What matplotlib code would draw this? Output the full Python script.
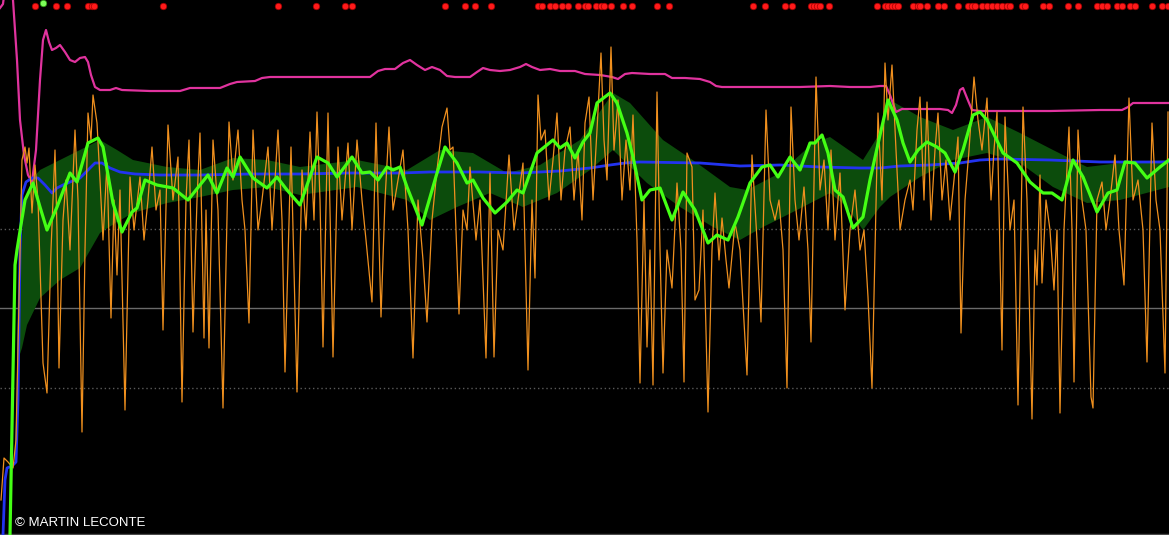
import matplotlib.pyplot as plt
import numpy as np

# readings taken off the chart: x = bar position, y = level (0 at top, 535 at bottom)
fast_x = [1, 4, 8, 13, 16, 19, 22, 25, 27, 29, 32, 35, 38, 43, 47, 51, 55, 57, 59, 63, 66, 70, 75, 78,
          82, 85, 88, 91, 93, 97, 100, 103, 107, 111, 114, 117, 120, 125, 130, 134, 140, 144, 148, 152,
          156, 160, 163, 168, 173, 178, 182, 186, 189, 193, 197, 200, 204, 206, 209, 213, 218, 223, 229,
          233, 238, 242, 245, 249, 253, 258, 262, 268, 272, 278, 282, 285, 291, 297, 302, 306, 310, 314,
          317, 320, 323, 328, 333, 338, 342, 348, 352, 357, 362, 366, 372, 376, 381, 385, 389, 393, 398,
          403, 408, 413, 418, 423, 427, 432, 437, 442, 447, 450, 453, 459, 463, 467, 470, 476, 480, 486,
          490, 494, 498, 503, 509, 514, 518, 523, 528, 532, 535, 538, 541, 545, 549, 553, 557, 561, 565,
          570, 574, 578, 582, 585, 589, 593, 597, 601, 604, 607, 611, 614, 618, 622, 626, 630, 633, 637,
          640, 644, 647, 650, 653, 657, 660, 663, 667, 672, 677, 681, 684, 687, 692, 695, 699, 703, 708,
          712, 715, 719, 722, 726, 729, 735, 740, 747, 752, 757, 761, 766, 770, 775, 779, 783, 787, 791,
          795, 799, 804, 808, 811, 816, 820, 824, 828, 831, 835, 840, 845, 850, 855, 860, 864, 868, 872,
          875, 878, 882, 885, 888, 892, 896, 900, 905, 910, 913, 917, 920, 924, 927, 931, 935, 938, 942,
          946, 950, 954, 958, 961, 965, 969, 974, 978, 982, 987, 991, 994, 997, 1002, 1005, 1010, 1014,
          1018, 1023, 1027, 1032, 1035, 1037, 1040, 1042, 1046, 1050, 1054, 1057, 1060, 1064, 1069, 1072,
          1074, 1078, 1082, 1086, 1091, 1093, 1097, 1102, 1106, 1110, 1115, 1119, 1124, 1129, 1133, 1138,
          1143, 1147, 1152, 1156, 1160, 1165, 1168]
fast_y = [500, 458, 462, 468, 440, 300, 160, 147, 163, 148, 213, 165, 200, 363, 393, 250, 150, 230, 368,
          220, 180, 250, 130, 200, 432, 250, 113, 140, 95, 123, 180, 240, 163, 318, 200, 275, 190, 410,
          177, 230, 177, 240, 200, 147, 210, 190, 330, 125, 200, 157, 402, 200, 140, 332, 200, 133, 338,
          210, 348, 140, 210, 408, 122, 180, 130, 200, 230, 323, 130, 230, 200, 147, 230, 130, 220, 372,
          147, 392, 170, 230, 132, 220, 112, 200, 347, 113, 357, 147, 220, 143, 230, 140, 200, 240, 302,
          123, 317, 200, 127, 210, 180, 150, 230, 358, 200, 260, 322, 220, 170, 127, 108, 150, 147, 314,
          210, 230, 167, 240, 200, 358, 173, 357, 230, 250, 155, 230, 200, 163, 370, 200, 278, 95, 140,
          130, 200, 160, 113, 200, 150, 127, 200, 150, 220, 123, 97, 200, 130, 53, 140, 180, 47, 150, 100,
          200, 140, 190, 115, 240, 383, 200, 347, 250, 385, 92, 250, 373, 250, 288, 183, 250, 382, 153,
          167, 300, 290, 210, 412, 250, 193, 260, 218, 260, 288, 223, 250, 375, 155, 240, 322, 110, 200,
          220, 200, 250, 388, 107, 200, 240, 187, 250, 342, 77, 190, 160, 230, 150, 240, 173, 310, 230,
          190, 250, 230, 297, 388, 250, 113, 200, 63, 120, 65, 150, 230, 200, 180, 210, 130, 97, 200, 102,
          220, 150, 113, 200, 160, 220, 180, 137, 333, 200, 150, 77, 120, 150, 98, 200, 150, 112, 350,
          117, 230, 200, 405, 107, 200, 419, 250, 285, 175, 283, 200, 230, 290, 230, 413, 230, 127, 230,
          382, 130, 200, 230, 397, 408, 200, 182, 230, 200, 155, 230, 285, 98, 200, 180, 230, 362, 123,
          200, 230, 373, 112]

signal_x = [10, 15, 17, 21, 25, 33, 40, 47, 57, 70, 77, 88, 98, 103, 113, 122, 132, 137, 145, 157, 173,
            188, 200, 208, 217, 227, 233, 240, 253, 267, 277, 287, 300, 317, 328, 337, 352, 362, 370, 378,
            387, 393, 400, 407, 422, 437, 445, 457, 467, 473, 483, 495, 507, 517, 523, 537, 553, 560, 567,
            575, 583, 590, 597, 610, 617, 627, 633, 642, 650, 660, 672, 683, 695, 708, 717, 728, 738, 750,
            762, 770, 778, 790, 800, 810, 815, 822, 828, 835, 843, 853, 863, 870, 880, 888, 897, 903, 910,
            918, 927, 937, 945, 955, 963, 973, 980, 987, 1003, 1017, 1030, 1043, 1052, 1062, 1073, 1083,
            1097, 1108, 1117, 1125, 1135, 1147, 1160, 1169]
signal_y = [535, 265, 250, 225, 200, 183, 207, 230, 207, 173, 182, 143, 138, 147, 203, 232, 212, 208, 180,
            185, 188, 200, 185, 175, 193, 168, 177, 157, 178, 188, 177, 190, 205, 157, 163, 177, 157, 173,
            172, 180, 167, 170, 167, 187, 225, 173, 147, 163, 183, 180, 198, 213, 202, 190, 193, 153, 140,
            148, 143, 158, 142, 133, 103, 93, 103, 133, 157, 200, 190, 188, 220, 192, 210, 243, 235, 240,
            217, 183, 167, 165, 177, 157, 170, 143, 143, 135, 153, 190, 197, 228, 217, 180, 135, 100, 120,
            143, 162, 150, 142, 147, 153, 172, 150, 115, 112, 120, 153, 163, 182, 193, 193, 200, 160, 177,
            212, 193, 190, 162, 163, 178, 167, 160]

base_x = [3, 5, 7, 12, 16, 18, 20, 22, 26, 32, 38, 45, 52, 57, 63, 70, 80, 88, 95, 102, 110, 120, 135,
          160, 200, 250, 300, 350, 400, 430, 480, 520, 560, 590, 610, 625, 640, 700, 740, 780, 820, 860,
          880, 900, 930, 960, 980, 1000, 1050, 1100, 1169]
base_y = [535, 480, 468, 466, 462, 400, 250, 195, 182, 178, 178, 185, 193, 188, 185, 182, 178, 170, 163,
          163, 168, 172, 174, 175, 175, 174, 174, 173, 173, 172, 172, 173, 171, 168, 165, 163, 162, 163,
          166, 165, 167, 168, 168, 166, 165, 163, 160, 159, 160, 162, 162]

slow_x = [0, 3, 6, 10, 13, 17, 20, 24, 28, 32, 36, 40, 43, 46, 49, 52, 56, 60, 65, 70, 75, 80, 85, 88, 91,
          95, 100, 110, 116, 122, 150, 180, 190, 200, 220, 230, 237, 255, 262, 270, 300, 330, 370, 378, 385,
          395, 403, 410, 417, 425, 432, 440, 447, 455, 470, 477, 483, 490, 500, 510, 520, 526, 532, 540,
          550, 560, 575, 585, 600, 612, 618, 625, 632, 650, 665, 672, 685, 700, 710, 716, 722, 760, 800,
          830, 850, 870, 880, 886, 890, 896, 902, 920, 940, 948, 952, 956, 960, 963, 967, 972, 980, 1000,
          1050, 1100, 1122, 1128, 1133, 1140, 1169]
slow_y = [8, 4, -20, -20, 0, 60, 120, 155, 175, 182, 150, 80, 40, 30, 42, 50, 48, 45, 52, 60, 62, 58, 57,
          62, 75, 87, 90, 90, 88, 90, 91, 91, 88, 88, 88, 84, 82, 81, 78, 77, 77, 77, 77, 71, 69, 69, 63,
          60, 65, 70, 67, 70, 76, 77, 77, 72, 68, 70, 71, 70, 67, 64, 67, 70, 69, 71, 71, 74, 75, 77, 79,
          74, 73, 74, 74, 78, 78, 79, 82, 86, 87, 87, 87, 86, 87, 87, 86, 86, 95, 112, 109, 109, 109, 110,
          113, 105, 90, 88, 98, 110, 111, 111, 111, 110, 110, 107, 103, 103, 103]

band_up_x = [17, 20, 25, 33, 40, 60, 80, 100, 117, 133, 167, 200, 233, 267, 300, 357, 407, 440, 473, 507,
             540, 580, 613, 630, 663, 697, 730, 747, 780, 813, 830, 863, 880, 890, 920, 953, 987, 1020,
             1053, 1087, 1120, 1169]
band_up_y = [350, 260, 200, 178, 170, 160, 150, 140, 150, 160, 167, 170, 158, 160, 167, 160, 170, 150,
             153, 173, 165, 140, 93, 103, 140, 163, 187, 190, 173, 143, 137, 160, 133, 100, 117, 130, 117,
             133, 150, 167, 163, 160]
band_lo_x = [18, 22, 27, 40, 60, 80, 100, 117, 133, 167, 200, 233, 267, 300, 357, 407, 430, 457, 490, 523,
             557, 590, 613, 647, 680, 713, 740, 763, 797, 830, 847, 863, 880, 890, 920, 953, 987, 1020,
             1053, 1087, 1120, 1169]
band_lo_y = [360, 348, 325, 298, 280, 268, 233, 222, 213, 203, 197, 190, 187, 195, 187, 200, 220, 207,
             193, 207, 193, 170, 150, 183, 207, 227, 240, 227, 210, 193, 207, 230, 207, 197, 177, 160, 153,
             163, 187, 203, 200, 187]

levels = [229, 308, 388]

sell_dots = [35, 56, 67, 88, 92, 94, 163, 278, 316, 345, 352, 445, 465, 475, 491, 538, 542, 550, 555, 562,
             568, 578, 585, 588, 596, 601, 604, 611, 623, 632, 657, 669, 753, 765, 785, 792, 811, 814, 817,
             820, 829, 877, 885, 888, 892, 895, 898, 913, 918, 920, 927, 938, 944, 958, 968, 972, 975, 982,
             987, 992, 997, 1002, 1007, 1010, 1022, 1025, 1043, 1049, 1068, 1078, 1097, 1102, 1107, 1117,
             1122, 1130, 1135, 1152, 1162, 1168]
buy_dots = [43]


fig = plt.figure(figsize=(11.69, 5.35), dpi=100, facecolor="black")
ax = fig.add_axes([0, 0, 1, 1], facecolor="black")

''' level lines '''
ax.axhline(levels[0], color="#5a5a5a", lw=1, ls=(0, (1, 2)))
ax.axhline(levels[1], color="#6a6a6a", lw=1)
ax.axhline(levels[2], color="#5a5a5a", lw=1, ls=(0, (1, 2)))

''' band '''
ax.fill(np.concatenate([band_up_x, band_lo_x[::-1]]), np.concatenate([band_up_y, band_lo_y[::-1]]),
        color="#0c4c0c", lw=0, zorder=2)

''' lines '''
ax.plot(slow_x, slow_y, color="#e0339e", lw=1.6, zorder=3, solid_joinstyle="round")
ax.plot(base_x, base_y, color="#2233f0", lw=2, zorder=3, solid_joinstyle="round")
ax.plot(fast_x, fast_y, color="#f0901e", lw=0.9, zorder=4, solid_joinstyle="round")
ax.plot(signal_x, signal_y, color="#44ff14", lw=2.3, zorder=5, solid_joinstyle="round")

''' signal dots '''
ax.scatter(sell_dots, [6] * len(sell_dots), s=22, c="#ff1a1a", edgecolors="#a00000", linewidths=0.5, zorder=6)
ax.scatter(buy_dots, [3] * len(buy_dots), s=22, c="#7dff5a", edgecolors="#2a9a10", linewidths=0.5, zorder=6)

ax.axhline(534, color="#4a4a4a", lw=1)
ax.text(0.0128, 0.016, "\u00a9 MARTIN LECONTE", color="white", fontsize=9.5, family="Liberation Sans",
        transform=ax.transAxes, va="baseline", ha="left")

ax.set_xlim(0, 1169); ax.set_ylim(535, 0)
ax.axis("off")
fig.savefig("out.png", dpi=100, facecolor="black")
